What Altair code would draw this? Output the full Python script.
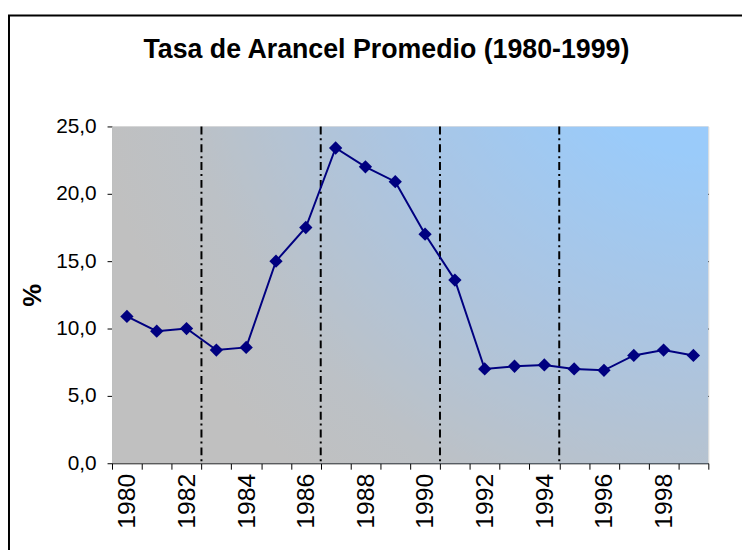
import altair as alt
import pandas as pd

years = list(range(1980, 2000))
values = [10.9, 9.8, 10.0, 8.4, 8.6, 15.0, 17.5, 23.4, 22.0, 20.9,
          17.0, 13.6, 7.0, 7.2, 7.3, 7.0, 6.9, 8.0, 8.4, 8.0]
divider_years = [1982, 1986, 1990, 1994]
y_ticks = [0, 5, 10, 15, 20, 25]
title_text = "Tasa de Arancel Promedio (1980-1999)"
y_title = "%"

FONT = "Liberation Sans"
W, H = 602, 340

df = pd.DataFrame({"year": years, "value": values})
df_div = pd.DataFrame({"year": divider_years})

x_scale = alt.Scale(domain=years, paddingInner=0, paddingOuter=0)
y_scale = alt.Scale(domain=[0, 25], nice=False)

x_axis = alt.Axis(
    title=None, tickBand="extent", labelAngle=-90, labelFontSize=25,
    labelFont=FONT, labelColor="black", labelPadding=4, tickSize=6,
    tickColor="black", domainColor="black", domainWidth=1, grid=False,
    labelOverlap=False,
    labelExpr="datum.value % 2 == 0 ? datum.label : ''",
)
y_axis = alt.Axis(
    title=y_title, values=y_ticks, labelFontSize=21, labelFont=FONT,
    labelColor="black", labelPadding=11, tickSize=5, tickColor="black",
    domainColor="black", domainWidth=1,
    labelExpr="replace(format(datum.value, '.1f'), '.', ',')",
    grid=True,
    gridColor=alt.condition("datum.value == 25 || datum.value == 0",
                            alt.value("transparent"), alt.value("black")),
    gridWidth=1,
    titleFont=FONT, titleFontSize=26, titleFontWeight="bold", titleColor="black",
    titleX=-80, titleY=170, titleBaseline="middle", titleAlign="center",
    titleAngle=270,
)

one = pd.DataFrame({"k": [0]})

frame = alt.Chart(one).mark_rect(filled=False, stroke="black", strokeWidth=2).encode(
    x=alt.value(-104), x2=alt.value(640), y=alt.value(-112), y2=alt.value(440)
)

bg = alt.Chart(one).mark_rect(
    fill={
        "gradient": "radial",
        "x1": 1, "y1": 0, "r1": 0,
        "x2": 1, "y2": 0, "r2": 1.05,
        "stops": [
            {"offset": 0.0, "color": "#99CCFF"},
            {"offset": 0.25, "color": "#9ACBFA"},
            {"offset": 0.55, "color": "#ABC5E2"},
            {"offset": 0.85, "color": "#BCC1C6"},
            {"offset": 1.0, "color": "#C0C0C0"},
        ],
    }
).encode(x=alt.value(0), x2=alt.value("width"), y=alt.value(0), y2=alt.value("height"))

dividers = alt.Chart(df_div).mark_rule(
    color="black", strokeWidth=2, strokeDash=[8, 4, 2, 4]
).encode(x=alt.X("year:O", bandPosition=1, scale=x_scale, axis=x_axis))

line = alt.Chart(df).mark_line(color="#000080", strokeWidth=2).encode(
    x=alt.X("year:O", scale=x_scale, axis=x_axis),
    y=alt.Y("value:Q", scale=y_scale, axis=y_axis),
)
points = alt.Chart(df).mark_point(
    shape="diamond", filled=True, color="#000080", size=180, opacity=1
).encode(
    x=alt.X("year:O", scale=x_scale, axis=x_axis),
    y=alt.Y("value:Q", scale=y_scale, axis=y_axis),
)

chart = alt.layer(frame, bg, dividers, line, points).properties(
    width=W, height=H,
    autosize=alt.AutoSizeParams(type="none"),
    padding={"left": 105, "top": 117, "right": 34, "bottom": 85},
    title=alt.TitleParams(
        text=title_text, font=FONT, fontSize=27, fontWeight="bold",
        color="black", anchor="middle", frame="group", dx=-24,
        baseline="alphabetic", offset=0, dy=71,
    ),
).configure_view(stroke="#999999", strokeWidth=2).configure(background="white")

chart.save("out.html", embed_options={"renderer": "svg", "actions": False})
